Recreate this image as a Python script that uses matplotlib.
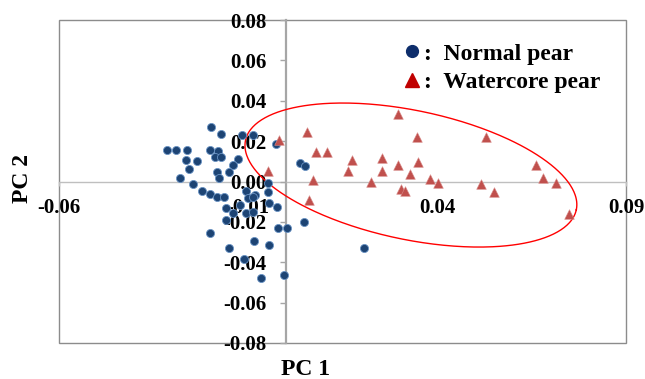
import numpy as np
import matplotlib
matplotlib.use("Agg")
import matplotlib.pyplot as plt
from matplotlib.lines import Line2D

plt.rcParams['font.family'] = ['Liberation Serif', 'DejaVu Serif']
plt.rcParams['font.weight'] = 'bold'

# ---- data (PC1, PC2) ----
normal_pc1 = [-0.01966, -0.0172, -0.01146, -0.00873, -0.00265, -0.03148, -0.0291, -0.02619,
              -0.02011, -0.01799, -0.01878, -0.0172, -0.02646, -0.02347, -0.02558, -0.01262,
              -0.01394, -0.01508, -0.01833, -0.02804, -0.01772, -0.02452, -0.0223, -0.02011,
              -0.01833, -0.01632, -0.01058, -0.0082, -0.00468, -0.00468, 0.0037, 0.00503,
              -0.01587, -0.01217, -0.00997, -0.00873, -0.00442, -0.00246, -0.01569, -0.01394,
              -0.0104, -0.00865, -0.02011, -0.00204, 0.00019, 0.00476, -0.00847, -0.00437,
              -0.01508, -0.01111, -0.00653, -0.00053, 0.02063]
normal_pc2 = [0.02714, 0.02377, 0.02303, 0.02303, 0.01882, 0.0156, 0.0156, 0.0156,
              0.0156, 0.01511, 0.01228, 0.01228, 0.01065, 0.0104, 0.00644, 0.011,
              0.00817, 0.0047, 0.00456, 0.00173, 0.00173, -0.00139, -0.0047, -0.00634,
              -0.00753, -0.00753, -0.0047, -0.00669, -0.00505, -0.00089, 0.00916, 0.00768,
              -0.01313, -0.01164, -0.00832, -0.00768, -0.0108, -0.01248, -0.01907, -0.01575,
              -0.01575, -0.01496, -0.02566, -0.02303, -0.02303, -0.01991, -0.02947, -0.0317,
              -0.03318, -0.03839, -0.0478, -0.04656, -0.03294]

water_pc1 = [-0.00177, -0.00468, 0.00563, 0.00786, 0.01077, 0.00722, 0.00616, 0.01759,
             0.01648, 0.02267, 0.02558, 0.02558, 0.02971, 0.02971, 0.03061, 0.03148,
             0.0328, 0.03458, 0.035, 0.0381, 0.04029, 0.05177, 0.05291, 0.05503,
             0.06632, 0.06807, 0.07161, 0.07495]
water_pc2 = [0.02055, 0.00535, 0.02467, 0.01476, 0.01476, 0.00074, -0.00916, 0.01065,
             0.0052, -0.00025, 0.01164, 0.0052, 0.03328, 0.00817, -0.00371, -0.00495,
             0.00347, 0.02204, 0.00981, 0.00124, -0.00074, -0.00124, 0.02219, -0.0052,
             0.00817, 0.00188, -0.00074, -0.01625]

x_ticks = [-0.06, -0.01, 0.04, 0.09]
y_ticks = [-0.08, -0.06, -0.04, -0.02, 0.00, 0.02, 0.04, 0.06, 0.08]

# confidence ellipse (center and semi-axis vectors, data units)
ell_center = (0.0331, 0.0032)
ell_u = (0.04376, -0.01719)
ell_v = (0.0035, 0.03126)

fig = plt.figure(figsize=(6.45, 3.79), dpi=100)
ax = fig.add_axes([0.0915, 0.095, 0.879, 0.8522])
ax.set_xlim(-0.06, 0.09)
ax.set_ylim(-0.08, 0.08)

ax.scatter(normal_pc1, normal_pc2, s=34, marker='o', facecolor='#1d4474',
           edgecolor='#6a93c4', linewidths=0.6, zorder=3)
ax.scatter(water_pc1, water_pc2, s=48, marker='^', facecolor='#c0504d',
           edgecolor='#d98b89', linewidths=0.4, zorder=3)

t = np.linspace(0, 2 * np.pi, 400)
ex = ell_center[0] + ell_u[0] * np.cos(t) + ell_v[0] * np.sin(t)
ey = ell_center[1] + ell_u[1] * np.cos(t) + ell_v[1] * np.sin(t)
ax.plot(ex, ey, color='#ff0000', lw=1.0, zorder=2)

# spines through zero, plus a frame
for side in ['top', 'right']:
    ax.spines[side].set_visible(False)
ax.spines['left'].set_position(('data', 0))
ax.spines['bottom'].set_position(('data', 0))
ax.spines['left'].set_color('#a6a6a6')
ax.spines['left'].set_linewidth(1.6)
ax.spines['bottom'].set_color('#bfbfbf')
ax.spines['bottom'].set_linewidth(1.0)
ax.spines['left'].set_zorder(0.6)
ax.spines['bottom'].set_zorder(0.6)
frame = plt.Rectangle((0, 0), 1, 1, transform=ax.transAxes, fill=False,
                      edgecolor='#8c8c8c', lw=1.0, zorder=0.5, clip_on=False)
ax.add_patch(frame)

ax.set_xticks(x_ticks)
ax.set_xticklabels([f"{v:.2f}" for v in x_ticks])
ax.set_yticks(y_ticks)
ax.set_yticklabels([f"{v:.2f}" for v in y_ticks])
ax.tick_params(axis='y', direction='out', length=4, width=1, color='#a6a6a6',
               pad=10, labelsize=15)
ax.tick_params(axis='x', direction='out', length=3, width=1, color='#bfbfbf',
               pad=9, labelsize=15)
for lab in ax.get_xticklabels() + ax.get_yticklabels():
    lab.set_fontweight('bold')

fig.text(0.473, 0.025, 'PC 1', fontsize=17, fontweight='bold', ha='center', va='center')
fig.text(0.035, 0.53, 'PC 2', fontsize=17, fontweight='bold', ha='center', va='center',
         rotation=90)

handles = [Line2D([], [], marker='o', linestyle='none', markersize=8.5,
                  markerfacecolor='#0d2d6b', markeredgecolor='#0d2d6b'),
           Line2D([], [], marker='^', linestyle='none', markersize=10,
                  markerfacecolor='#c00000', markeredgecolor='#c00000')]
leg = ax.legend(handles, [':  Normal pear', ':  Watercore pear'], loc='upper left',
                bbox_to_anchor=(0.577, 0.98), frameon=False, prop={'size': 17, 'weight': 'bold'},
                handlelength=0.8, handletextpad=0.1, labelspacing=0.3, borderpad=0.2)

fig.savefig('out.png', dpi=100)
